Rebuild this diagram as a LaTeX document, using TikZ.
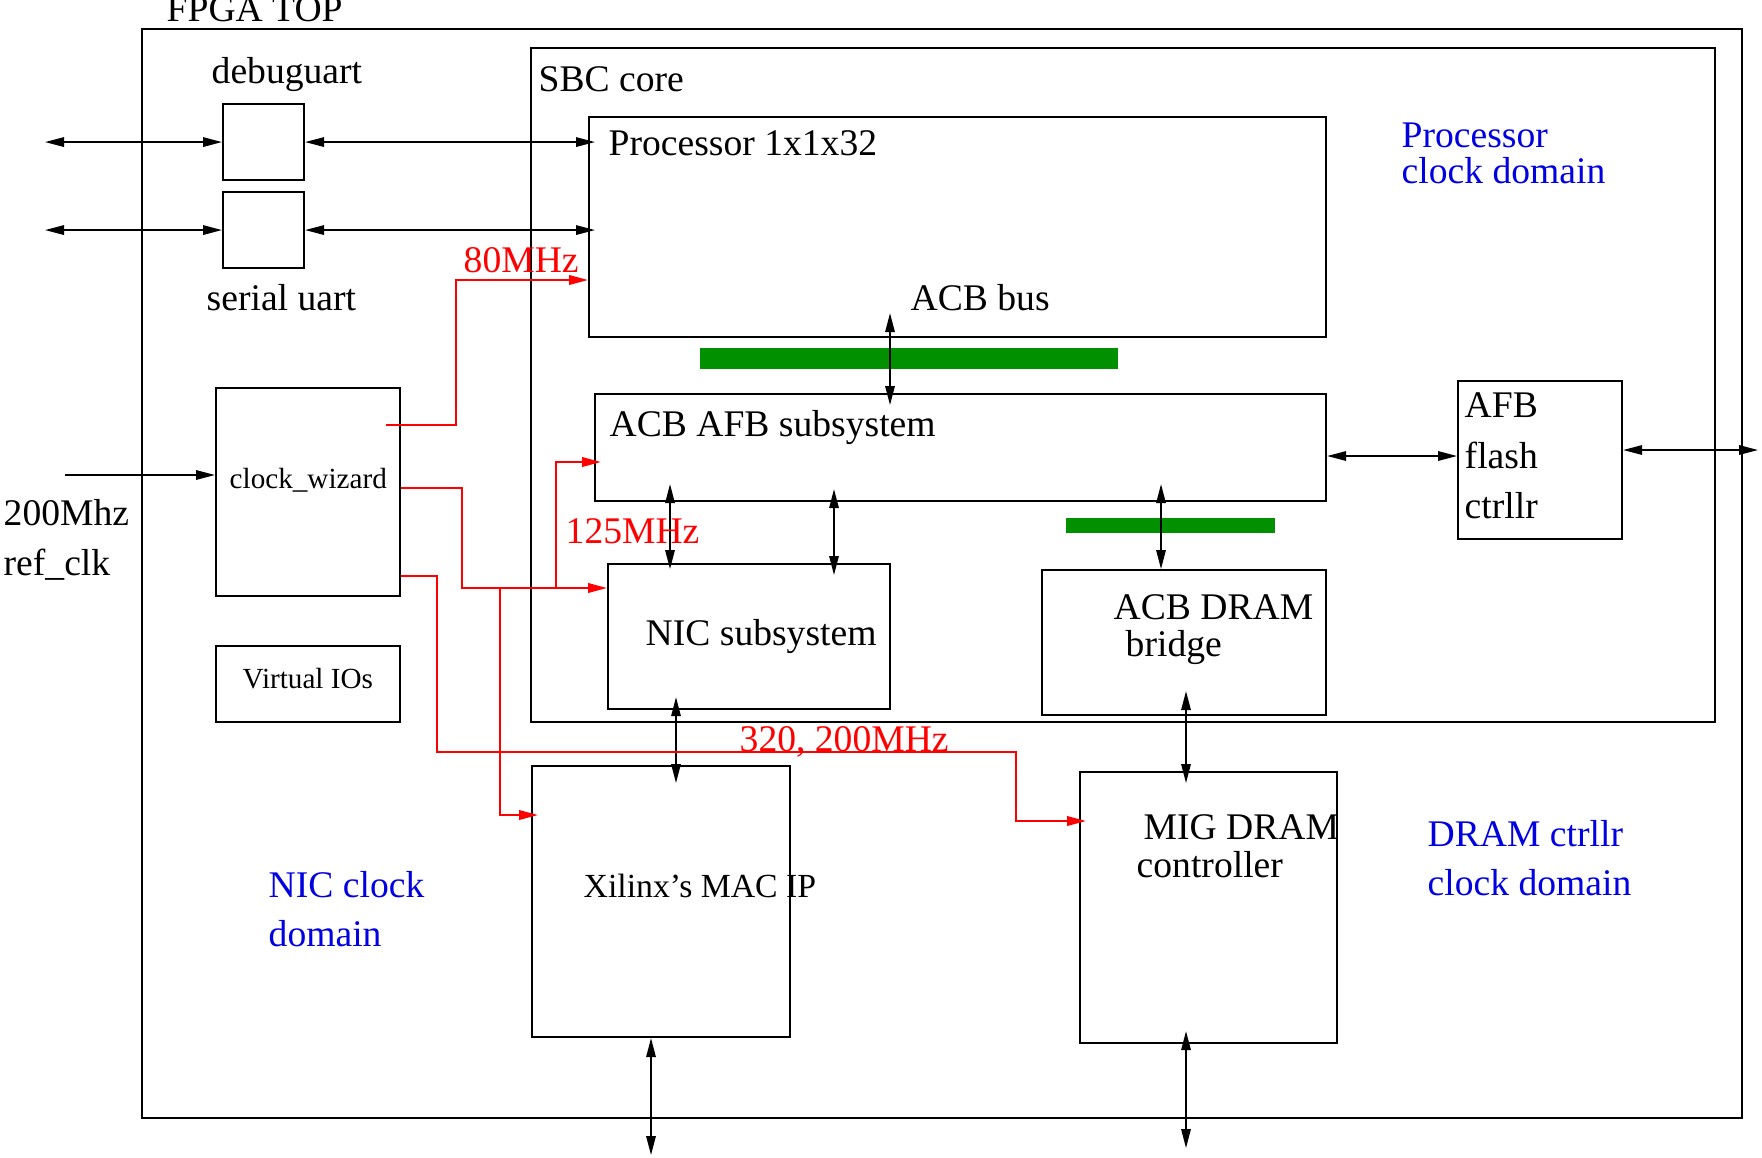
\documentclass[tikz,border=0pt]{standalone}
\usepackage{fontspec}
\setmainfont{Liberation Serif}
\usetikzlibrary{arrows.meta}

\definecolor{busgreen}{RGB}{0,144,0}
\definecolor{domblue}{RGB}{0,0,225}

\tikzset{
  ftip/.tip={Triangle[length=0.19cm,width=0.095cm]},
  blk/.style={draw, line width=0.6pt, inner sep=0pt, anchor=north west},
  lbl/.style={inner sep=0pt, anchor=base west, font=\fontsize{10.7}{12.8}\selectfont},
  small lbl/.style={lbl, font=\fontsize{8.3}{10}\selectfont},
  dom/.style={lbl, text=domblue},
  freq/.style={lbl, text=red},
  bus/.style={line width=0.45pt, ftip-ftip},
  clk/.style={red, line width=0.6pt, -ftip},
}

\begin{document}
\begin{tikzpicture}[x=1cm, y=-1cm]
    \useasboundingbox (0,0) rectangle (17.62,11.57);

    % Draw outer boxes
    \node[blk, minimum width=16.00cm, minimum height=10.89cm] (fpga) at (1.41,0.28) {};
    \node[blk, minimum width=11.84cm, minimum height=6.74cm] (sbc) at (5.30,0.47) {};

    % Blocks of the SBC core
    \node[blk, minimum width=7.37cm, minimum height=2.20cm] (proc) at (5.88,1.16) {};
    \node[blk, minimum width=7.31cm, minimum height=1.07cm] (acbafb) at (5.94,3.93) {};
    \node[blk, minimum width=2.82cm, minimum height=1.45cm] (nic) at (6.07,5.63) {};
    \node[blk, minimum width=2.84cm, minimum height=1.45cm] (bridge) at (10.41,5.69) {};
    \node[blk, minimum width=1.64cm, minimum height=1.58cm] (afb) at (14.57,3.80) {};

    % Left column blocks
    \node[blk, minimum width=0.81cm, minimum height=0.76cm] (debug) at (2.22,1.03) {};
    \node[blk, minimum width=0.81cm, minimum height=0.76cm] (serial) at (2.22,1.91) {};
    \node[blk, minimum width=1.84cm, minimum height=2.08cm] (clkwiz) at (2.15,3.87) {};
    \node[blk, minimum width=1.84cm, minimum height=0.76cm] (vio) at (2.15,6.45) {};

    % Bottom blocks
    \node[blk, minimum width=2.58cm, minimum height=2.71cm] (mac) at (5.31,7.65) {};
    \node[blk, minimum width=2.57cm, minimum height=2.71cm] (mig) at (10.79,7.71) {};

    % Green bus bars
    \fill[busgreen] (7.00,3.48) rectangle (11.18,3.69);
    \fill[busgreen] (10.66,5.18) rectangle (12.75,5.33);

    % Add labels
    \node[lbl] (toplbl) at (1.66,0.21) {FPGA TOP};
    \node[lbl] (sbclbl) at (5.38,0.91) {SBC core};
    \node[lbl] (proclbl) at (6.08,1.55) {Processor 1x1x32};
    \node[lbl] (buslbl) at (9.10,3.10) {ACB bus};
    \node[lbl] (afblbl) at (6.09,4.36) {ACB AFB subsystem};
    \node[lbl] (flash1) at (14.64,4.17) {AFB};
    \node[lbl] (flash2) at (14.64,4.68) {flash};
    \node[lbl] (flash3) at (14.64,5.18) {ctrllr};
    \node[lbl] (niclbl) at (6.45,6.45) {NIC subsystem};
    \node[lbl] (brlbl1) at (11.13,6.19) {ACB DRAM};
    \node[lbl] (brlbl2) at (11.25,6.56) {bridge};
    \node[lbl] (dbglbl) at (2.11,0.83) {debuguart};
    \node[lbl] (serlbl) at (2.06,3.10) {serial uart};
    \node[small lbl] (wizlbl) at (2.29,4.88) {clock\_wizard};
    \node[small lbl] (violbl) at (2.42,6.88) {Virtual IOs};
    \node[lbl] (ref1) at (0.03,5.25) {200Mhz};
    \node[lbl] (ref2) at (0.03,5.75) {ref\_clk};
    \node[lbl, font=\fontsize{9.6}{11.5}\selectfont] (maclbl) at (5.83,8.97) {Xilinx's MAC IP};
    \node[lbl] (miglbl1) at (11.43,8.39) {MIG DRAM};
    \node[lbl] (miglbl2) at (11.36,8.77) {controller};

    % Clock domain labels
    \node[dom] (pdom1) at (14.01,1.47) {Processor};
    \node[dom] (pdom2) at (14.01,1.83) {clock domain};
    \node[dom] (ndom1) at (2.68,8.97) {NIC clock};
    \node[dom] (ndom2) at (2.68,9.46) {domain};
    \node[dom] (ddom1) at (14.27,8.46) {DRAM ctrllr};
    \node[dom] (ddom2) at (14.27,8.95) {clock domain};

    % Free ends of the connectors
    \coordinate (extL) at (0.45,0);
    \coordinate (extR) at (17.58,0);
    \coordinate (refin) at (0.65,4.75);
    \coordinate (busx) at (8.90,0);
    \coordinate (nicA) at (6.70,0);
    \coordinate (nicB) at (8.34,0);
    \coordinate (brx) at (11.61,0);
    \coordinate (nicmac) at (6.76,0);
    \coordinate (brmig) at (11.86,0);
    \coordinate (macio) at (6.51,11.55);
    \coordinate (migio) at (11.86,11.48);

    % Draw uart and flash connections
    \draw[bus] (debug.west -| extL) -- (debug.west);
    \draw[bus, shorten >=-0.07cm] (debug.east) -- (debug.east -| proc.west);
    \draw[bus] (serial.west -| extL) -- (serial.west);
    \draw[bus, shorten >=-0.07cm] (serial.east) -- (serial.east -| proc.west);
    \draw[bus] (afb.west |- 0,4.56) -- (acbafb.east |- 0,4.56);
    \draw[bus] (afb.east |- 0,4.50) -- (extR |- 0,4.50);
    \draw[line width=0.45pt, -ftip] (refin) -- (refin -| clkwiz.west);

    % Draw bus connections
    \draw[bus, shorten <=-0.25cm, shorten >=-0.12cm] (proc.south -| busx) -- (acbafb.north -| busx);
    \draw[bus, shorten <=-0.18cm, shorten >=-0.06cm] (acbafb.south -| nicA) -- (nic.north -| nicA);
    \draw[bus, shorten <=-0.13cm, shorten >=-0.12cm] (acbafb.south -| nicB) -- (nic.north -| nicB);
    \draw[bus, shorten <=-0.18cm] (acbafb.south -| brx) -- (bridge.north -| brx);
    \draw[bus, shorten <=-0.13cm, shorten >=-0.18cm] (nic.south -| nicmac) -- (mac.north -| nicmac);
    \draw[bus, shorten <=-0.25cm, shorten >=-0.12cm] (bridge.south -| brmig) -- (mig.north -| brmig);
    \draw[bus] (macio |- mac.south) -- (macio);
    \draw[bus, shorten <=-0.13cm] (migio |- mig.south) -- (migio);

    % Draw clock lines
    \coordinate (c80) at (4.56,2.80);
    \coordinate (c125) at (4.62,5.88);
    \coordinate (c125up) at (5.56,4.62);
    \coordinate (c125dn) at (5.00,8.15);
    \coordinate (c320a) at (4.37,7.52);
    \coordinate (c320b) at (10.16,8.21);
    \draw[clk] (3.86,4.25) -| (c80) -- (c80 -| proc.west);
    \draw[clk] (clkwiz.east |- 0,4.88) -| (c125) -- (c125 -| nic.west);
    \draw[clk, shorten >=-0.07cm] (c125 -| c125up) -- (c125up) -- (c125up -| acbafb.west);
    \draw[clk, shorten >=-0.07cm] (c125 -| c125dn) -- (c125dn) -- (c125dn -| mac.west);
    \draw[clk, shorten >=-0.07cm] (clkwiz.east |- 0,5.76) -| (c320a) -| (c320b) -- (c320b -| mig.west);

    % Clock labels
    \node[freq] (f80) at (4.63,2.72) {80MHz};
    \node[freq] (f125) at (5.65,5.43) {125MHz};
    \node[freq] (f320) at (7.39,7.51) {320, 200MHz};
\end{tikzpicture}
\end{document}
